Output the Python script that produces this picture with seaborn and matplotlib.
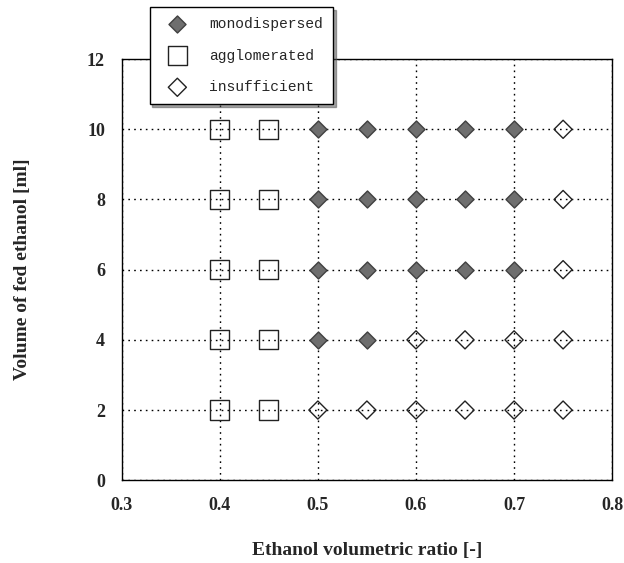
import pandas as pd
import numpy as np
import matplotlib.pyplot as plt
import seaborn as sns

# data
mono_x = [0.5, 0.55, 0.6, 0.65, 0.7, 0.5, 0.55, 0.6, 0.65, 0.7, 0.5, 0.55, 0.6, 0.65, 0.7, 0.5, 0.55]
mono_y = [10, 10, 10, 10, 10, 8, 8, 8, 8, 8, 6, 6, 6, 6, 6, 4, 4]
aggl_x = [0.4, 0.45, 0.4, 0.45, 0.4, 0.45, 0.4, 0.45, 0.4, 0.45]
aggl_y = [10, 10, 8, 8, 6, 6, 4, 4, 2, 2]
insuf_x = [0.75, 0.75, 0.75, 0.6, 0.65, 0.7, 0.75, 0.5, 0.55, 0.6, 0.65, 0.7, 0.75]
insuf_y = [10, 8, 6, 4, 4, 4, 4, 2, 2, 2, 2, 2, 2]

x_ticks = [0.3, 0.4, 0.5, 0.6, 0.7, 0.8]
y_ticks = [0, 2, 4, 6, 8, 10, 12]

df = pd.concat([
    pd.DataFrame({'ratio': mono_x, 'volume': mono_y, 'state': 'monodispersed'}),
    pd.DataFrame({'ratio': aggl_x, 'volume': aggl_y, 'state': 'agglomerated'}),
    pd.DataFrame({'ratio': insuf_x, 'volume': insuf_y, 'state': 'insufficient'}),
])

sns.set_style('white')
plt.rcParams['font.family'] = ['Liberation Serif', 'DejaVu Serif']

fig = plt.figure(figsize=(6.24, 5.63), dpi=100)
ax = fig.add_axes([0.195, 0.147, 0.786, 0.748])

styles = {
    'monodispersed': dict(marker='D', s=75, color='#6e6e6e', edgecolor='#404040', linewidth=1.0),
    'agglomerated': dict(marker='s', s=190, color='none', edgecolor='#222222', linewidth=1.0),
    'insufficient': dict(marker='D', s=85, color='none', edgecolor='#222222', linewidth=1.0),
}
for state, kw in styles.items():
    sns.scatterplot(data=df[df['state'] == state], x='ratio', y='volume', ax=ax,
                    label=state, zorder=3, **kw)

ax.set_xlim(0.3, 0.8)
ax.set_ylim(0, 12)
ax.set_xticks(x_ticks)
ax.set_yticks(y_ticks)
ax.set_xticklabels([f'{t:.1f}' for t in x_ticks], fontsize=13, fontweight='bold')
ax.set_yticklabels([str(t) for t in y_ticks], fontsize=13, fontweight='bold')
ax.tick_params(length=0, pad=12)
ax.grid(True, color='black', linestyle=(0, (1.2, 3)), linewidth=1.0)
for sp in ax.spines.values():
    sp.set_color('black')
    sp.set_linewidth(1.0)

ax.set_xlabel('Ethanol volumetric ratio [-]', fontsize=14, fontweight='bold', labelpad=20)
ax.set_ylabel('Volume of fed ethanol [ml]', fontsize=14, fontweight='bold', labelpad=40)

leg = ax.legend(loc='upper left', bbox_to_anchor=(0.057, 1.124), borderaxespad=0,
                frameon=True, shadow=True, fancybox=False, borderpad=0.7,
                labelspacing=1.2, handletextpad=1.0, handlelength=2.4,
                prop={'family': 'Liberation Mono', 'size': 10.5})
leg.get_frame().set_edgecolor('black')
leg.get_frame().set_linewidth(1.0)
leg.set_zorder(5)

fig.savefig('out.png', dpi=100)
